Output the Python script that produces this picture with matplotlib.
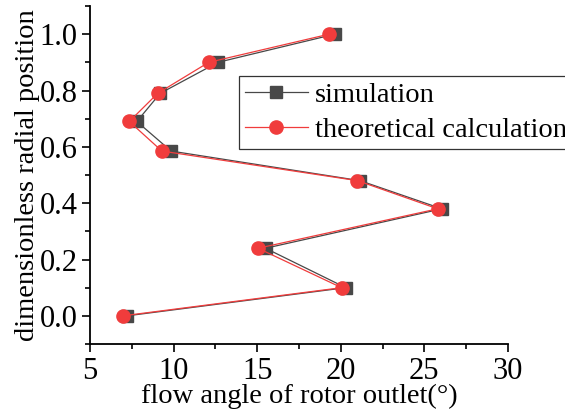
import matplotlib
matplotlib.use('Agg')
import matplotlib.pyplot as plt
from matplotlib.ticker import MultipleLocator

plt.rcParams['font.family'] = ['Liberation Serif', 'DejaVu Serif']

# radial positions shared by both series
radial_pos = [0.0, 0.1, 0.24, 0.38, 0.48, 0.585, 0.69, 0.79, 0.9, 1.0]
sim_angle = [7.2, 20.3, 15.5, 26.05, 21.15, 9.85, 7.8, 9.2, 12.65, 19.65]
theory_angle = [6.95, 20.05, 15.05, 25.8, 21.0, 9.3, 7.35, 9.05, 12.1, 19.3]

gray = '#484848'
red = '#f03c3c'

fig = plt.figure(figsize=(5.65, 4.17), dpi=100)
ax = fig.add_axes([0.1593, 0.175, 0.7397, 0.8106])

ax.plot(sim_angle, radial_pos, color=gray, marker='s', markersize=8.5,
        linewidth=0.9, label='simulation', zorder=2)
ax.plot(theory_angle, radial_pos, color=red, marker='o', markersize=9.5,
        linewidth=0.9, label='theoretical calculation', zorder=3)

ax.set_xlim(5, 30)
ax.set_ylim(-0.1, 1.1)
ax.xaxis.set_major_locator(MultipleLocator(5))
ax.xaxis.set_minor_locator(MultipleLocator(2.5))
ax.yaxis.set_major_locator(MultipleLocator(0.2))
ax.yaxis.set_minor_locator(MultipleLocator(0.1))
ax.yaxis.set_major_formatter(plt.FormatStrFormatter('%.1f'))

for side in ['top', 'right']:
    ax.spines[side].set_visible(False)
for side in ['left', 'bottom']:
    ax.spines[side].set_linewidth(1.3)

ax.tick_params(which='major', length=6, width=1.2, labelsize=22, pad=3)
ax.tick_params(which='minor', length=3.5, width=1.2)

ax.set_xlabel('flow angle of rotor outlet(°)', fontsize=20.5, labelpad=-1)
ax.set_ylabel('dimensionless radial position', fontsize=20.5, labelpad=0)

leg = ax.legend(loc='upper left', bbox_to_anchor=(0.357, 0.793), fontsize=20.5,
                frameon=True, fancybox=False, edgecolor='black',
                borderpad=0.2, handlelength=2.2, handletextpad=0.25,
                labelspacing=0.33, borderaxespad=0, markerscale=1.0)
leg.get_frame().set_linewidth(0.9)

fig.savefig('out.png', dpi=100)
